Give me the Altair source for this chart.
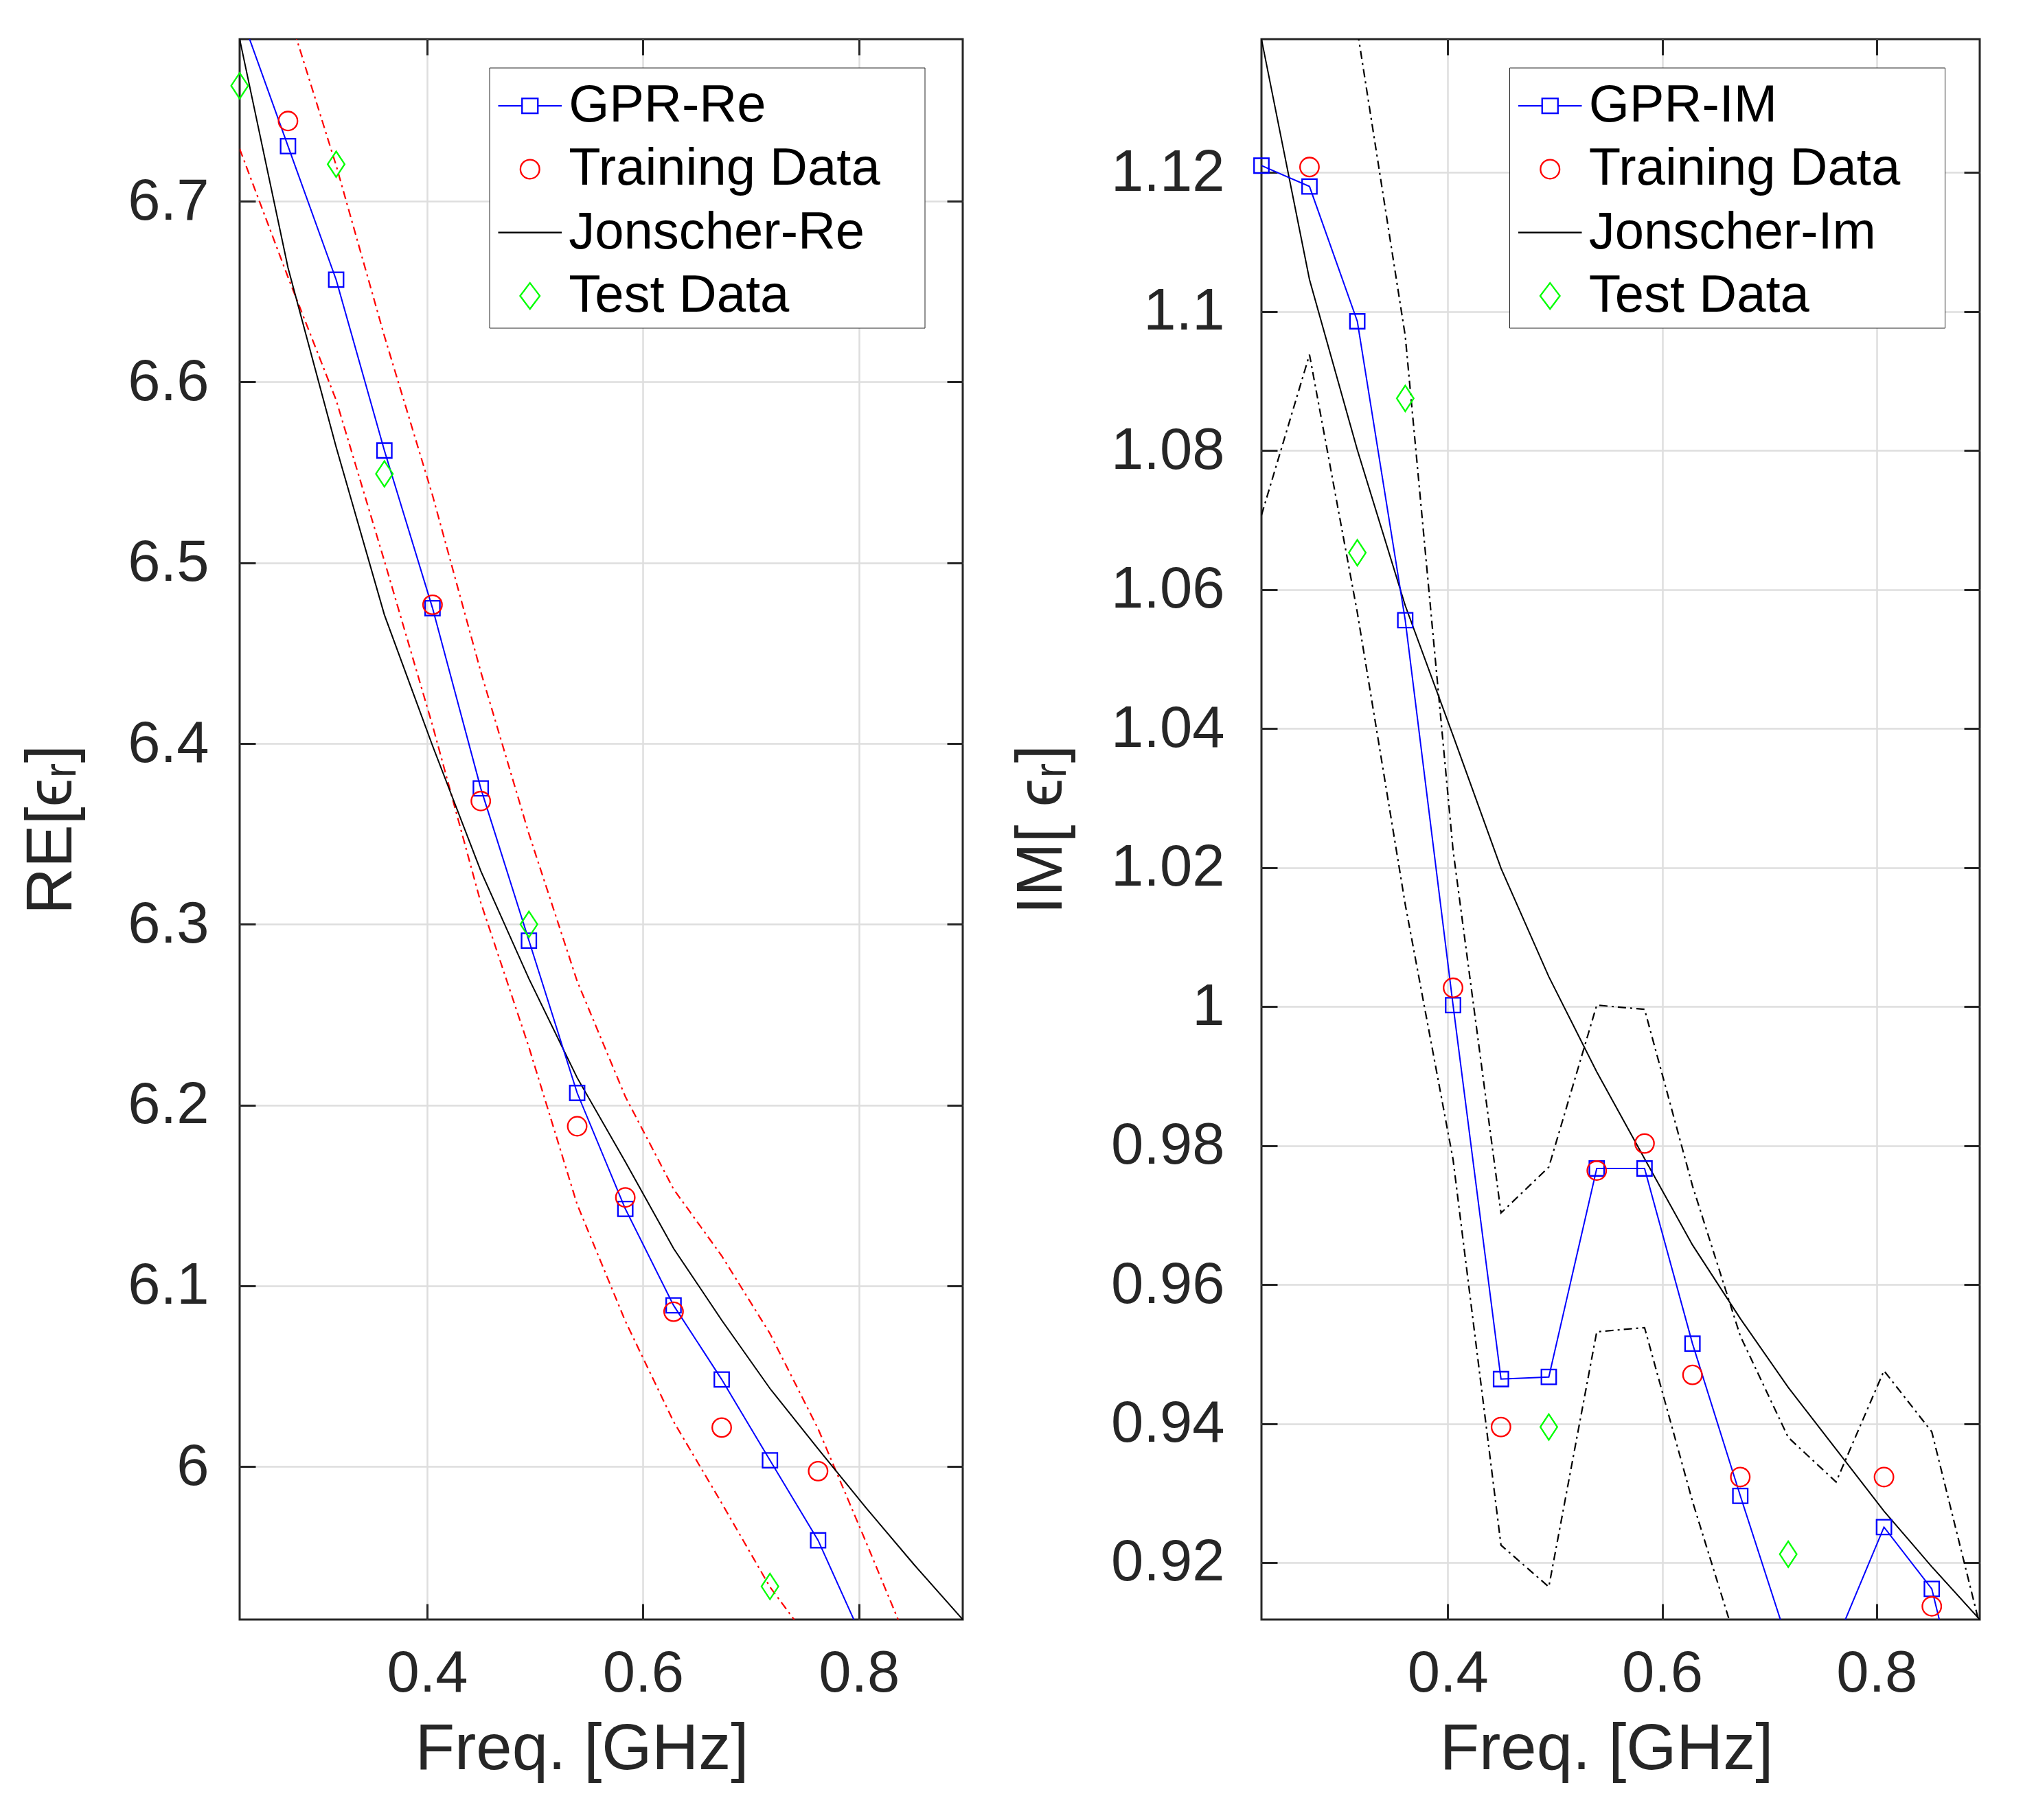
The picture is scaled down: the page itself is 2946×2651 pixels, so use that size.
import altair as alt
import pandas as pd

# ---------------- data ----------------
freq = [0.2263, 0.2711, 0.3157, 0.3604, 0.4050, 0.4497, 0.4943, 0.5390,
        0.5836, 0.6283, 0.6729, 0.7176, 0.7622, 0.8069, 0.8515, 0.8962]

re_gpr = [6.805, 6.7305, 6.6566, 6.5621, 6.4749, 6.3752, 6.291, 6.2067,
          6.1426, 6.0892, 6.0482, 6.0035, 5.9592, 5.900, 5.840, 5.780]
re_upper = [6.881, 6.805, 6.7198, 6.6254, 6.5373, 6.4397, 6.350, 6.2685,
            6.2047, 6.1535, 6.1166, 6.0736, 6.0209, 5.9578, 5.8935, 5.830]
re_lower = [6.729, 6.658, 6.590, 6.501, 6.410, 6.312, 6.232, 6.145,
            6.0805, 6.0249, 5.9798, 5.9334, 5.8975, 5.8422, 5.787, 5.730]
re_jonscher = [6.7897, 6.6632, 6.564, 6.4712, 6.3988, 6.3295, 6.2699, 6.2151,
               6.1686, 6.1207, 6.081, 6.0432, 6.0098, 5.977, 5.9455, 5.9154]
re_train_freq = [0.2711, 0.4050, 0.4497, 0.5390, 0.5836, 0.6283, 0.6729, 0.7622]
re_train = [6.7444, 6.4768, 6.3682, 6.1883, 6.1489, 6.0857, 6.0216, 5.9975]
re_test_freq = [0.2263, 0.3157, 0.3604, 0.4943, 0.7176]
re_test = [6.7639, 6.7205, 6.5492, 6.300, 5.9337]

im_gpr = [1.121, 1.118, 1.0986, 1.0556, 1.0002, 0.9464, 0.9467, 0.9767,
          0.9767, 0.9515, 0.9296, 0.9083, 0.9086, 0.9251, 0.9162, 0.888]
im_upper = [1.1713, 1.1422, 1.1405, 1.0965, 1.0225, 0.9703, 0.9769, 1.0002,
            0.9996, 0.9742, 0.9526, 0.938, 0.9316, 0.9476, 0.9388, 0.911]
im_lower = [1.0707, 1.0938, 1.0567, 1.0147, 0.978, 0.9225, 0.9165, 0.9532,
            0.9538, 0.9288, 0.9066, 0.8786, 0.8856, 0.9026, 0.8936, 0.865]
im_jonscher = [1.1392, 1.1046, 1.0801, 1.0577, 1.039, 1.0199, 1.0043, 0.9906,
               0.9781, 0.9657, 0.9551, 0.9452, 0.9363, 0.9274, 0.9194, 0.9118]
im_train_freq = [0.2711, 0.4050, 0.4497, 0.5390, 0.5836, 0.6283, 0.6729, 0.8069, 0.8515]
im_train = [1.1208, 1.0027, 0.9395, 0.9764, 0.9803, 0.947, 0.9323, 0.9323, 0.9137]
im_test_freq = [0.3157, 0.3604, 0.4943, 0.7176]
im_test = [1.0653, 1.0875, 0.9395, 0.9212]

x_ticks = [0.4, 0.6, 0.8]
re_ticks = [6.0, 6.1, 6.2, 6.3, 6.4, 6.5, 6.6, 6.7]
im_ticks = [0.92, 0.94, 0.96, 0.98, 1.0, 1.02, 1.04, 1.06, 1.08, 1.1, 1.12]
re_domain = [5.9154, 6.7897]
im_domain = [0.9118, 1.1392]
x_domain = [0.2263, 0.8962]

re_labels = ["GPR-Re", "Training Data", "Jonscher-Re", "Test Data"]
im_labels = ["GPR-IM", "Training Data", "Jonscher-Im", "Test Data"]

# ---------------- styling ----------------
FONT = "Liberation Sans"
AX = "#262626"
GRID = "#dedede"
BLUE, RED, BLACK, GREEN = "#0000ff", "#ff0000", "#000000", "#00ff00"
TICK = 23

DIAMOND = "M0,-1L0.66,0L0,1L-0.66,0Z"
LEG_SHAPES = [
    "M-1,0L-0.249,0M0.249,0L1,0M-0.249,-0.235L0.249,-0.235L0.249,0.235L-0.249,0.235Z",
    "M0.3,0A0.3,0.3,0,1,1,-0.3,0A0.3,0.3,0,1,1,0.3,0Z",
    "M-1,0L1,0",
    "M0,-0.41L0.31,0L0,0.41L-0.31,0Z",
]
PAD_CHARS = "\u2800"


def inside(fs, vs, dom):
    keep = [(f, v) for f, v in zip(fs, vs) if dom[0] <= v <= dom[1]]
    return pd.DataFrame({"f": [k[0] for k in keep], "v": [k[1] for k in keep]})


def panel(gpr, upper, lower, jon, trf, trv, tsf, tsv, ydom, yticks, ytitle,
          labels, bcolor, width, height, lab_pad, title_pad, leg_x, xtitle_x):
    xs = alt.Scale(domain=x_domain, nice=False, zero=False)
    ys = alt.Scale(domain=ydom, nice=False, zero=False)

    main_x = alt.Axis(orient="bottom", values=x_ticks, format="~g", title="Freq. [GHz]",
                      grid=True, gridColor=GRID, gridWidth=2.5, domain=False,
                      tickSize=TICK, tickWidth=3, tickColor=AX, offset=-TICK,
                      labelFont=FONT, labelFontSize=85, labelColor=AX, labelPadding=37,
                      labelFlush=False, titleFont=FONT, titleFontSize=94,
                      titleFontWeight="normal", titleColor=AX, titlePadding=22,
                      titleX=xtitle_x, maxExtent=400)
    main_y = alt.Axis(orient="left", values=yticks, format="~g", title=ytitle,
                      grid=True, gridColor=GRID, gridWidth=2.5, domain=False,
                      tickSize=TICK, tickWidth=3, tickColor=AX, offset=-TICK,
                      labelFont=FONT, labelFontSize=85, labelColor=AX, labelPadding=lab_pad,
                      labelOverlap=False, titleFont=FONT, titleFontSize=94,
                      titleFontWeight="normal", titleColor=AX, titlePadding=title_pad,
                      maxExtent=400)
    aux_x = alt.Axis(orient="top", values=x_ticks, labels=False, title=None, grid=False,
                     domain=False, tickSize=TICK, tickWidth=3, tickColor=AX, offset=-TICK)
    aux_y = alt.Axis(orient="right", values=yticks, labels=False, title=None, grid=False,
                     domain=False, tickSize=TICK, tickWidth=3, tickColor=AX, offset=-TICK)

    df = pd.DataFrame({"f": freq, "gpr": gpr, "upper": upper, "lower": lower, "jon": jon})

    def line(field, color, dash=None, xa=None, ya=None, width_=2):
        kw = dict(clip=True, color=color, strokeWidth=width_)
        if dash:
            kw["strokeDash"] = dash
        return alt.Chart(df).mark_line(**kw).encode(
            x=alt.X("f:Q", scale=xs, axis=xa),
            y=alt.Y(f"{field}:Q", scale=ys, axis=ya),
            order="f:Q")

    up = line("upper", bcolor, [12, 6, 3, 6], width_=2.2)
    lo = line("lower", bcolor, [12, 6, 3, 6], width_=2.2)
    jo = line("jon", BLACK, xa=aux_x, ya=aux_y)
    gl = line("gpr", BLUE, xa=main_x, ya=main_y)

    def pts(data, color, shape, size):
        return alt.Chart(data).mark_point(filled=False, opacity=1, color=color,
                                          shape=shape, size=size, strokeWidth=2.3).encode(
            x=alt.X("f:Q", scale=xs, axis=None),
            y=alt.Y("v:Q", scale=ys, axis=None))

    gp = pts(inside(freq, gpr, ydom), BLUE, "square", 462)
    tr = pts(inside(trf, trv, ydom), RED, "circle", 760)
    ts = pts(inside(tsf, tsv, ydom), GREEN, DIAMOND, 1400)

    leg_df = pd.DataFrame({"series": labels, "f": [0.0] * 4, "v": [ydom[0] - 1.0] * 4})
    leg_props = dict(title=None, orient="none", legendX=leg_x, legendY=41.5,
                     direction="vertical", symbolSize=8556, symbolStrokeWidth=2.3,
                     labelFont=FONT, labelFontSize=76, labelColor="black",
                     labelOffset=9, rowPadding=6.3, padding=8.15, strokeColor=AX,
                     fillColor="white", labelLimit=3000, symbolOffset=3.6,
                     labelExpr="datum.label == 'Training Data' ? 'Training Data" + PAD_CHARS + "' : datum.label")
    leg = alt.Chart(leg_df).mark_point(filled=False, opacity=1, clip=True, strokeWidth=2.3).encode(
        x=alt.X("f:Q", scale=xs, axis=None),
        y=alt.Y("v:Q", scale=ys, axis=None),
        color=alt.Color("series:N", scale=alt.Scale(domain=labels, range=[BLUE, RED, BLACK, GREEN]),
                        legend=alt.Legend(**leg_props)),
        shape=alt.Shape("series:N", scale=alt.Scale(domain=labels, range=LEG_SHAPES),
                        legend=alt.Legend(**leg_props)),
    )

    return alt.layer(up, lo, jo, gl, gp, tr, ts, leg).resolve_axis(
        x="independent", y="independent").properties(width=width, height=height)


left = panel(re_gpr, re_upper, re_lower, re_jonscher, re_train_freq, re_train,
             re_test_freq, re_test, re_domain, re_ticks, "RE[\u03f5\u1d63]",
             re_labels, RED, 1053, 2302, 45, 62, 363.5, 498)
right = panel(im_gpr, im_upper, im_lower, im_jonscher, im_train_freq, im_train,
              im_test_freq, im_test, im_domain, im_ticks, "IM[ \u03f5\u1d63]",
              im_labels, BLACK, 1046, 2302, 54, 52, 361, 502)

chart = alt.hconcat(left, right, spacing=435, bounds="flush").resolve_scale(
    color="independent", shape="independent"
).properties(
    padding={"left": 19, "top": 46, "right": 10, "bottom": 10},
    background="white",
).configure_view(stroke=AX, strokeWidth=3)

chart.save("out.html", embed_options={"renderer": "svg", "actions": False})
